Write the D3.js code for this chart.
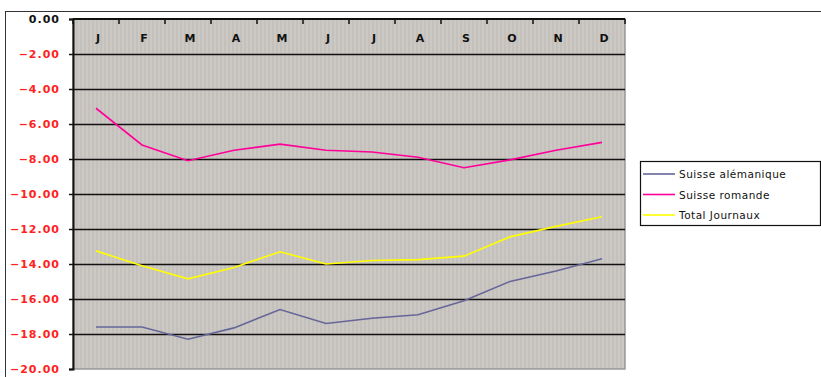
<!doctype html>
<html lang="en">
<head>
<meta charset="utf-8">
<title>Suisse</title>
<script src="https://d3js.org/d3.v7.min.js"></script>
<style>
  body { margin: 0; background: #fff; }
  text { font-family: "DejaVu Sans", sans-serif; }
</style>
</head>
<body>
<svg width="821" height="377"></svg>
<script>
  // data
  var months = ["J","F","M","A","M","J","J","A","S","O","N","D"];
  var yTicks = [0,-2,-4,-6,-8,-10,-12,-14,-16,-18,-20];
  var seriesNames = ["Suisse alémanique","Suisse romande","Total Journaux"];
  var seriesColors = ["#666699","#ff0099","#ffff00"];
  var alemanique = [-17.6,-17.6,-18.3,-17.65,-16.6,-17.4,-17.1,-16.9,-16.1,-15.0,-14.4,-13.7];
  var romande = [-5.1,-7.2,-8.1,-7.5,-7.15,-7.5,-7.6,-7.9,-8.5,-8.05,-7.5,-7.05];
  var total = [-13.25,-14.1,-14.85,-14.2,-13.3,-14.0,-13.8,-13.75,-13.55,-12.45,-11.85,-11.3];
  var allSeries = [alemanique, romande, total];

  var svg = d3.select("svg");
  var plotLeft = 73, plotRight = 625, plotTop = 19, plotBottom = 369;

  // outer border
  svg.append("rect").attr("x", 5.5).attr("y", 11.5).attr("width", 830).attr("height", 380)
      .attr("fill", "none").attr("stroke", "#333").attr("stroke-width", 1);

  // striped background
  var defs = svg.append("defs");
  var pat = defs.append("pattern").attr("id", "stripes").attr("patternUnits", "userSpaceOnUse")
      .attr("width", 4).attr("height", 4);
  pat.append("rect").attr("width", 4).attr("height", 4).attr("fill", "#ccc8c4");
  pat.append("rect").attr("width", 2).attr("height", 4).attr("fill", "#c4c0bc");

  var x = d3.scaleBand().domain(d3.range(12)).range([plotLeft, plotRight]);
  var y = d3.scaleLinear().domain([-20, 0]).range([plotBottom, plotTop]);

  svg.append("rect").attr("x", plotLeft).attr("y", plotTop)
      .attr("width", plotRight - plotLeft).attr("height", plotBottom - plotTop)
      .attr("fill", "url(#stripes)").attr("stroke", "#999").attr("stroke-width", 1.5);

  // grid lines
  svg.append("g").selectAll("line").data(yTicks.filter(function(d) { return d != 0 && d != -20; }))
      .enter().append("line")
      .attr("x1", plotLeft).attr("x2", plotRight)
      .attr("y1", function(d) { return Math.round(y(d)) + 0.5; })
      .attr("y2", function(d) { return Math.round(y(d)) + 0.5; })
      .attr("stroke", "#111").attr("stroke-width", 1.6);

  // y axis
  var yAxis = svg.append("g").attr("transform", "translate(" + plotLeft + ",0)")
      .call(d3.axisLeft(y).tickValues(yTicks).tickFormat(d3.format(".2f")).tickSize(4).tickPadding(9));
  yAxis.select(".domain").attr("stroke", "#111").attr("stroke-width", 2);
  yAxis.selectAll(".tick line").attr("stroke", "#111").attr("stroke-width", 1.5);
  yAxis.selectAll("text").attr("font-size", 11).attr("font-weight", "bold")
      .attr("letter-spacing", 1)
      .attr("fill", function(d) { return d < 0 ? "#ff2222" : "#111"; });

  // x axis at the top (y = 0)
  var xTickPos = d3.range(13).map(function(i) { return plotLeft + i * x.step(); });
  svg.append("line").attr("x1", plotLeft).attr("x2", plotRight).attr("y1", plotTop).attr("y2", plotTop)
      .attr("stroke", "#111").attr("stroke-width", 2);
  svg.append("g").selectAll("line").data(xTickPos).enter().append("line")
      .attr("x1", function(d) { return d; }).attr("x2", function(d) { return d; })
      .attr("y1", plotTop).attr("y2", plotTop + 5)
      .attr("stroke", "#111").attr("stroke-width", 1.5);
  svg.append("g").selectAll("text").data(months).enter().append("text")
      .attr("x", function(d, i) { return x(i) + x.bandwidth() / 2 + 2; })
      .attr("y", plotTop + 23)
      .attr("text-anchor", "middle")
      .attr("font-size", 11).attr("font-weight", "bold").attr("fill", "#111")
      .text(function(d) { return d; });

  // lines
  var line = d3.line()
      .x(function(d, i) { return x(i) + x.bandwidth() / 2; })
      .y(function(d) { return y(d); });
  svg.append("g").selectAll("path").data(allSeries).enter().append("path")
      .attr("d", line)
      .attr("fill", "none")
      .attr("stroke", function(d, i) { return seriesColors[i]; })
      .attr("stroke-width", 1.6);

  // legend
  var lg = svg.append("g").attr("transform", "translate(640,161)");
  lg.append("rect").attr("x", 0.5).attr("y", 0.5).attr("width", 180).attr("height", 64)
      .attr("fill", "#fff").attr("stroke", "#111").attr("stroke-width", 1.2);
  var items = lg.selectAll("g.item").data(seriesNames).enter().append("g")
      .attr("transform", function(d, i) { return "translate(0," + (13 + i * 20.5) + ")"; });
  items.append("line").attr("x1", 3).attr("x2", 35).attr("y1", 0).attr("y2", 0)
      .attr("stroke", function(d, i) { return seriesColors[i]; }).attr("stroke-width", 1.6);
  items.append("text").attr("x", 39).attr("y", 4).attr("font-size", 10.5).attr("fill", "#111")
      .attr("letter-spacing", 0.5)
      .text(function(d) { return d; });
</script>
</body>
</html>
